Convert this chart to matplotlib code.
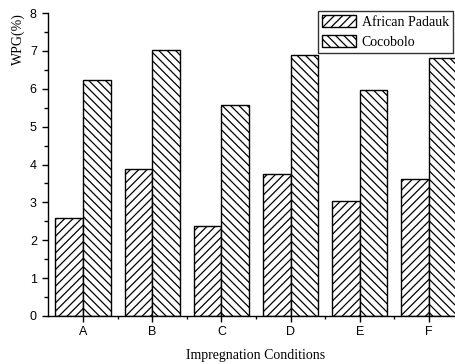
import matplotlib
matplotlib.use("Agg")
import matplotlib.pyplot as plt
import numpy as np
from matplotlib.ticker import MultipleLocator, FixedLocator

categories = ["A", "B", "C", "D", "E", "F"]
padauk = [2.58, 3.87, 2.38, 3.75, 3.04, 3.62]
cocobolo = [6.22, 7.02, 5.57, 6.89, 5.98, 6.80]
series_names = ["African Padauk", "Cocobolo"]

plt.rcParams['hatch.linewidth'] = 0.9

fig = plt.figure(figsize=(4.55, 3.64), dpi=100)
ax = fig.add_axes([48.4/455, 1-316/364, 415.2/455, 303/364])

x = np.arange(len(categories))
w = 0.4
ax.bar(x - w/2, padauk, width=w, facecolor="white", edgecolor="black",
       hatch="////", linewidth=1.0, label=series_names[0])
ax.bar(x + w/2, cocobolo, width=w, facecolor="white", edgecolor="black",
       hatch="\\\\\\\\", linewidth=1.0, label=series_names[1])

ax.set_xlim(-0.5, len(categories) - 0.5)
ax.set_ylim(0, 8)
ax.set_xticks(x)
ax.set_xticklabels(categories, fontfamily="Liberation Sans", fontsize=9)
ax.xaxis.set_minor_locator(FixedLocator(x[:-1] + 0.5))
ax.yaxis.set_major_locator(MultipleLocator(1))
ax.yaxis.set_minor_locator(MultipleLocator(0.5))
for lab in ax.get_yticklabels():
    lab.set_fontfamily("Liberation Sans")
    lab.set_fontsize(9)
ax.tick_params(axis="y", which="major", direction="out", length=4.3, width=1, pad=4)
ax.tick_params(axis="y", which="minor", direction="out", length=3, width=1)
ax.tick_params(axis="x", which="major", direction="out", length=4, width=1, pad=3)
ax.tick_params(axis="x", which="minor", direction="out", length=2.5, width=1)

for s in ["top", "right"]:
    ax.spines[s].set_visible(False)
for s in ["left", "bottom"]:
    ax.spines[s].set_linewidth(1.0)

ax.set_ylabel("WPG(%)", fontfamily="Liberation Serif", fontsize=10)
ax.yaxis.set_label_coords(-0.057, 0.914)
ax.set_xlabel("Impregnation Conditions", fontfamily="Liberation Serif", fontsize=10, labelpad=8)

leg = fig.legend(loc="upper left", bbox_to_anchor=(318/455, 1-11/364),
                 prop={"family": "Liberation Serif", "size": 10},
                 frameon=True, fancybox=False, edgecolor="black",
                 borderpad=0.3, borderaxespad=0, handlelength=2.45,
                 handleheight=0.9, handletextpad=0.4, labelspacing=0.45)
leg.get_frame().set_linewidth(1.0)

fig.savefig("out.png", dpi=100)
